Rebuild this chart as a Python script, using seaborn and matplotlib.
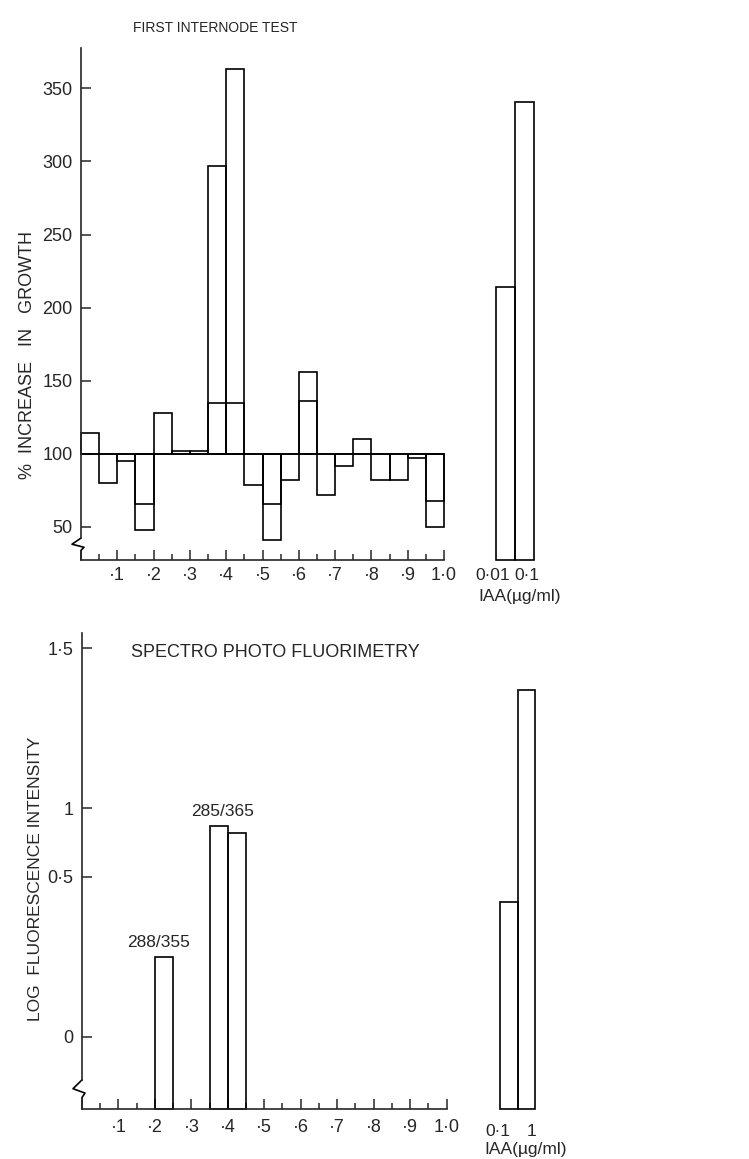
# se importan las bibliotecas
import numpy as np
import matplotlib
matplotlib.use('Agg')
import matplotlib.pyplot as plt
import seaborn as sns

# ---------------- datos ----------------
# inicio de cada fraccion (ancho 0.05)
fraccion_inicio = [0.00, 0.05, 0.10, 0.15, 0.20, 0.25, 0.30, 0.35, 0.40, 0.45,
                   0.50, 0.55, 0.60, 0.65, 0.70, 0.75, 0.80, 0.85, 0.90, 0.95]
ancho = 0.05
# % de aumento en crecimiento (prueba del primer entrenudo)
crecimiento = [114, 80, 95, 48, 128, 102, 102, 297, 363, 79,
               41, 82, 156, 72, 92, 110, 82, 82, 97, 50]
# segundo valor dibujado dentro de algunas barras
crecimiento_2 = [np.nan, np.nan, np.nan, 66, np.nan, np.nan, np.nan, 135, 135, np.nan,
                 66, np.nan, 136, np.nan, np.nan, np.nan, np.nan, np.nan, np.nan, 68]
control = 100
iaa_crec_etiquetas = ['0·01', '0·1']
iaa_crec = [214, 341]

# espectrofotofluorimetria
fluor_inicio = [0.20, 0.35, 0.40]
fluor = [0.25, 0.87, 0.82]
fluor_notas = ['288/355', '285/365']
fluor_notas_x = [0.225, 0.40]
fluor_notas_y = [0.25, 0.87]
iaa_fluor_etiquetas = ['0·1', '1']
iaa_fluor = [0.42, 1.37]

# ejes
x_ticks = [0.1, 0.2, 0.3, 0.4, 0.5, 0.6, 0.7, 0.8, 0.9, 1.0]
x_etiquetas = ['·1', '·2', '·3', '·4', '·5', '·6', '·7', '·8', '·9', '1·0']
crec_yticks = [50, 100, 150, 200, 250, 300, 350]
fluor_yticks = [0, 0.5, 1, 1.5]
fluor_yetiquetas = ['0', '0·5', '1', '1·5']

# escala del eje de fluorescencia (los intervalos no son iguales en el original)
escala_val = [-10, 0, 0.5, 1, 1.5, 10]
escala_pos = [-10, 0, 0.5, 0.714, 1.215, 9.715]


def adelante(v):
    return np.interp(v, escala_val, escala_pos)


def atras(p):
    return np.interp(p, escala_pos, escala_val)


# ---------------- estilo ----------------
sns.set_theme(style='ticks')
plt.rcParams['font.family'] = ['Liberation Sans', 'DejaVu Sans']
plt.rcParams['axes.linewidth'] = 1.2

W, H = 749, 1159
fig = plt.figure(figsize=(W / 100, H / 100), dpi=100)


def caja(x0, y0, x1, y1):
    # convierte pixeles a fraccion de figura
    return [x0 / W, 1 - y1 / H, (x1 - x0) / W, (y1 - y0) / H]


estilo_barra = dict(facecolor='none', edgecolor='black', linewidth=1.2, clip_on=False)


def ejes_x(ax, pad):
    ax.set_xlim(0, 1.0)
    ax.set_xticks(x_ticks, x_etiquetas, fontsize=13)
    ax.set_xticks([v + 0.05 for v in fraccion_inicio[::2]], minor=True)
    ax.tick_params(axis='x', which='major', direction='in', length=7.5, width=1.1, pad=pad)
    ax.tick_params(axis='x', which='minor', direction='in', length=4.5, width=1.1)
    ax.tick_params(axis='y', direction='in', length=7, width=1.1, pad=6, labelsize=13)
    sns.despine(ax=ax)


def quiebre(ax, y_arriba, y_abajo, ancho_px):
    # corte en zigzag del eje y
    tr = ax.get_yaxis_transform()
    d = 1.0 / ancho_px
    ax.spines['left'].set_bounds(y_arriba, ax.get_ylim()[1])
    medio = (y_arriba + y_abajo) / 2
    ax.plot([0, -9 * d, 3 * d, 0, 0], [y_arriba, medio, y_abajo + (y_arriba - y_abajo) * 0.25, y_abajo, ax.get_ylim()[0]],
            transform=tr, color='black', lw=1.2, clip_on=False)


# ---------------- grafico superior ----------------
ax1 = fig.add_axes(caja(81, 48, 444, 560))
ax1.set_ylim(27.4, 377.6)
alturas = [v - control for v in crecimiento]
ax1.bar(fraccion_inicio, alturas, width=ancho, bottom=control, align='edge', **estilo_barra)
alturas_2 = [v - control for v in crecimiento_2]
ax1.bar(fraccion_inicio, alturas_2, width=ancho, bottom=control, align='edge', **estilo_barra)
ax1.axhline(control, color='black', lw=1.2)
ax1.set_yticks(crec_yticks)
ejes_x(ax1, 5)
quiebre(ax1, 42.4, 34.0, 363)

ax1b = fig.add_axes(caja(496, 48, 534, 560), sharey=ax1)
base1 = ax1.get_ylim()[0]
ax1b.bar(range(len(iaa_crec)), [v - base1 for v in iaa_crec], width=1.0, bottom=base1, **estilo_barra)
ax1b.set_xlim(-0.5, 1.5)
ax1b.axis('off')
for i, (lab, dx) in enumerate(zip(iaa_crec_etiquetas, [-9, 2])):
    ax1b.annotate(lab, xy=(i, 0), xycoords=('data', 'axes fraction'), xytext=(dx, -11),
                  textcoords='offset points', ha='center', va='center', fontsize=12.5)
ax1b.annotate('IAA(µg/ml)', xy=(0.5, 0), xycoords='axes fraction', xytext=(3, -26),
              textcoords='offset points', ha='center', va='center', fontsize=12.5)

fig.text(215 / W, 1 - 28 / H, 'FIRST INTERNODE TEST', ha='center', va='center', fontsize=10)
fig.text(28 / W, 1 - 355 / H, '%  INCREASE   IN   GROWTH', ha='center', va='center',
         rotation=90, fontsize=13)

# ---------------- grafico inferior ----------------
ax2 = fig.add_axes(caja(82, 633, 446.5, 1109))
ax2.set_yscale('function', functions=(adelante, atras))
ax2.set_ylim(-0.226, 1.547)
base2 = ax2.get_ylim()[0]
ax2.bar(fluor_inicio, [v - base2 for v in fluor], width=ancho, bottom=base2, align='edge', **estilo_barra)
ax2.set_yticks(fluor_yticks, fluor_yetiquetas)
ax2.yaxis.set_minor_locator(matplotlib.ticker.NullLocator())
ejes_x(ax2, 7)
quiebre(ax2, -0.135, -0.19, 364.5)
for lab, x, y in zip(fluor_notas, fluor_notas_x, fluor_notas_y):
    ax2.annotate(lab, xy=(x, y), xytext=(-4, 10.5), textcoords='offset points',
                 ha='center', va='center', fontsize=12.5)
ax2.text(0.53, 1.486, 'SPECTRO PHOTO FLUORIMETRY', ha='center', va='center', fontsize=13,
         transform=ax2.get_yaxis_transform())

ax2b = fig.add_axes(caja(500, 633, 535, 1109), sharey=ax2)
ax2b.bar(range(len(iaa_fluor)), [v - base2 for v in iaa_fluor], width=1.0, bottom=base2, **estilo_barra)
ax2b.set_xlim(-0.5, 1.5)
ax2b.axis('off')
for i, (lab, dx) in enumerate(zip(iaa_fluor_etiquetas, [-8, 4])):
    ax2b.annotate(lab, xy=(i, 0), xycoords=('data', 'axes fraction'), xytext=(dx, -16),
                  textcoords='offset points', ha='center', va='center', fontsize=12.5)
ax2b.annotate('IAA(µg/ml)', xy=(0.5, 0), xycoords='axes fraction', xytext=(6, -29),
              textcoords='offset points', ha='center', va='center', fontsize=12.5)

fig.text(36 / W, 1 - 879 / H, 'LOG  FLUORESCENCE INTENSITY', ha='center', va='center',
         rotation=90, fontsize=12.5)

fig.savefig('out.png', dpi=100, facecolor='white')
